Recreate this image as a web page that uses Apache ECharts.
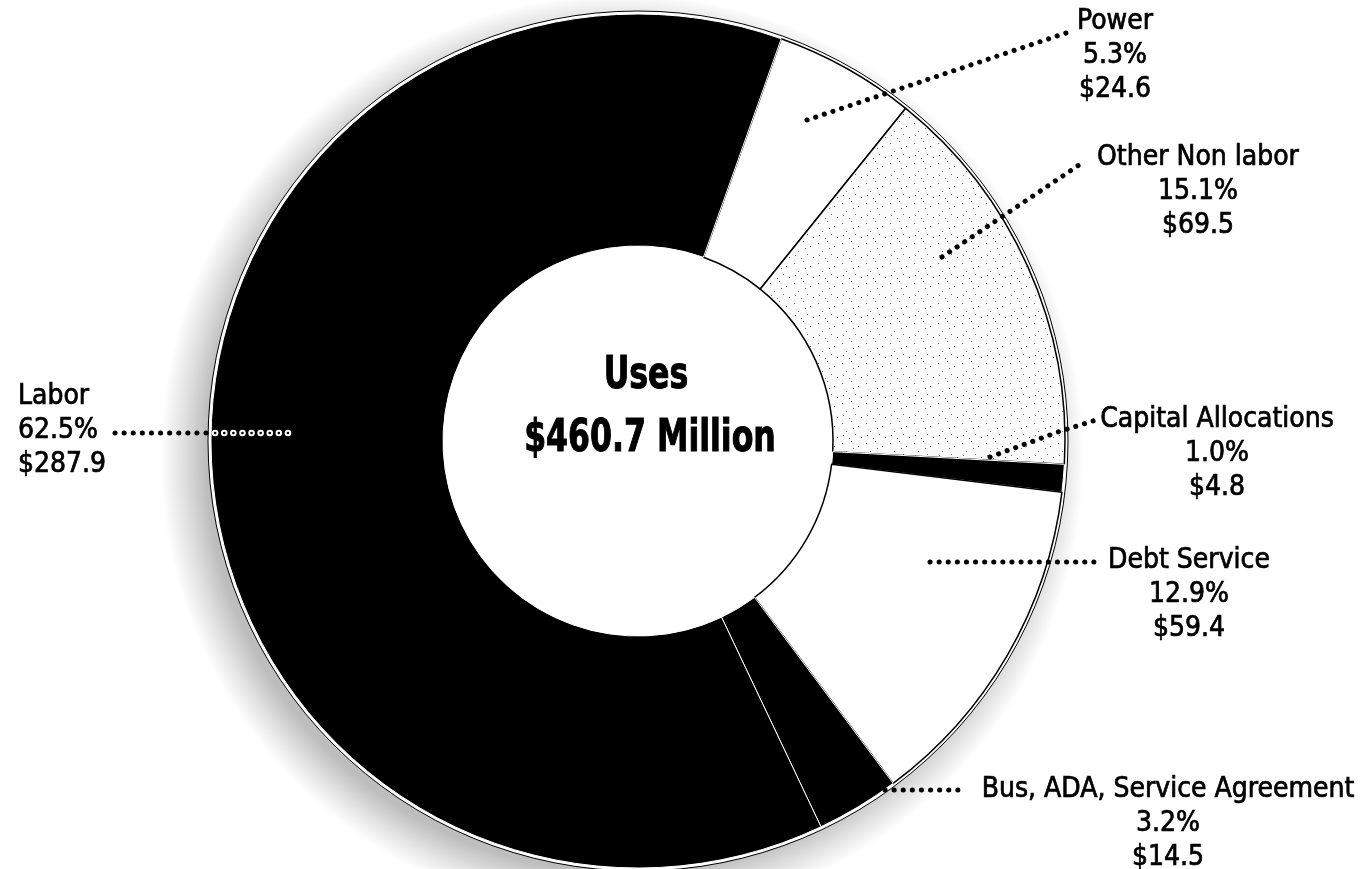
<!DOCTYPE html>
<html>
<head>
<meta charset="utf-8">
<style>
  html, body { margin: 0; padding: 0; background: #fff; }
  #chart { width: 1370px; height: 869px; }
</style>
<script src="https://cdn.jsdelivr.net/npm/echarts@6/dist/echarts.min.js"></script>
</head>
<body>
<div id="chart"></div>
<script>
// ---- data ----
const categories = ['Power', 'Other Non labor', 'Capital Allocations', 'Debt Service', 'Bus, ADA, Service Agreement', 'Labor'];
const amounts = [24.6, 69.5, 4.8, 59.4, 14.5, 287.9];          // $ millions
const percents = [5.3, 15.1, 1.0, 12.9, 3.2, 62.5];            // as printed
const centerTitle = ['Uses', '$460.7 Million'];

// ---- styling / layout (annotation positions, not data) ----
const FONT = '"Liberation Sans Narrow", "Arial Narrow", "DejaVu Sans Condensed", sans-serif';
const sliceFill = ['#ffffff', 'stipple', '#000000', '#ffffff', '#000000', '#000000'];
const labelPos = [
  { x: 1115, y: 5,   align: 'center' },
  { x: 1198, y: 141, align: 'center' },
  { x: 1217, y: 403, align: 'center' },
  { x: 1189, y: 544, align: 'center' },
  { x: 1168, y: 773, align: 'center' },
  { x: 18,   y: 380, align: 'left' }
];
const leaderPts = [
  [[807, 120], [1066, 33]],
  [[942, 257], [1082, 163]],
  [[990, 457], [1058, 432], [1096, 420]],
  [[930, 562], [1098, 562]],
  [[885, 790], [960, 790]],
  [[288, 433], [113, 433]]
];
const laborOnBlack = [[288, 433], [212, 433]];

// light stipple texture for "Other Non labor"
function stipple() {
  const c = document.createElement('canvas');
  c.width = 24; c.height = 20;
  const g = c.getContext('2d');
  g.fillStyle = '#fbfbfb'; g.fillRect(0, 0, 24, 20);
  g.fillStyle = 'rgba(0,0,0,0.55)';
  const specks = [[2,3],[11,1],[18,6],[6,11],[15,14],[21,17],[9,18],[3,15],[13,8]];
  specks.forEach(p => g.fillRect(p[0], p[1], 1, 1));
  return { image: c, repeat: 'repeat' };
}

const pieData = categories.map((name, i) => {
  const black = sliceFill[i] === '#000000';
  return {
    name: name,
    value: amounts[i],
    itemStyle: {
      color: sliceFill[i] === 'stipple' ? stipple() : sliceFill[i],
      borderColor: black ? '#ffffff' : '#000000',
      borderWidth: black ? 1 : 1.5
    }
  };
});

const dotStyle = { stroke: '#000', lineWidth: 5, lineDash: [0.1, 9], lineCap: 'round', fill: null };
const leaderGraphics = leaderPts.map(pts => ({
  type: 'polyline', z: 100, silent: true, shape: { points: pts }, style: dotStyle
}));

const chart = echarts.init(document.getElementById('chart'), null, { renderer: 'canvas' });
chart.setOption({
  backgroundColor: '#ffffff',
  animation: false,
  series: [
    {
      // backing disc with thin outer rim
      type: 'pie',
      silent: true,
      z: 3,
      center: [638, 441],
      radius: [0, 430],
      label: { show: false },
      labelLine: { show: false },
      data: [{ value: 1, itemStyle: { color: '#ffffff', borderColor: '#000', borderWidth: 1 } }]
    },
    {
      type: 'pie',
      z: 4,
      center: [638, 441],
      radius: [195, 427],
      startAngle: 70.4,
      clockwise: true,
      avoidLabelOverlap: false,
      data: pieData,
      label: {
        show: true,
        position: 'outside',
        fontFamily: FONT,
        fontSize: 28,
        lineHeight: 34,
        color: '#000',
        textBorderColor: '#000',
        textBorderWidth: 0.7,
        formatter: function (p) {
          return p.name + '\n' + percents[p.dataIndex].toFixed(1) + '%\n$' + amounts[p.dataIndex].toFixed(1);
        }
      },
      labelLine: { show: false },
      labelLayout: function (params) {
        const i = params.dataIndex;
        return {
          x: labelPos[i].x,
          y: labelPos[i].y,
          align: labelPos[i].align,
          verticalAlign: 'top'
        };
      }
    }
  ],
  graphic: [
    // soft grey drop shadow, offset left and down (drawn beneath the series)
    {
      type: 'circle', z: 0, silent: true,
      shape: { cx: 622, cy: 456, r: 462 },
      style: {
        fill: {
          type: 'radial', x: 0.5, y: 0.5, r: 0.5,
          colorStops: [
            { offset: 0, color: 'rgba(0,0,0,0.26)' },
            { offset: 0.9, color: 'rgba(0,0,0,0.26)' },
            { offset: 0.95, color: 'rgba(0,0,0,0.12)' },
            { offset: 1, color: 'rgba(0,0,0,0)' }
          ]
        }
      }
    }
  ].concat(leaderGraphics).concat([
    {
      type: 'text', z: 100, x: 646, y: 376, scaleX: 0.78,
      style: { text: centerTitle[0], fontFamily: FONT, fontWeight: 'bold', fontSize: 45, fill: '#000',
        stroke: '#000', lineWidth: 1, textAlign: 'center', textVerticalAlign: 'middle' }
    },
    {
      type: 'text', z: 100, x: 650, y: 439, scaleX: 0.78,
      style: { text: centerTitle[1], fontFamily: FONT, fontWeight: 'bold', fontSize: 45, fill: '#000',
        stroke: '#000', lineWidth: 1, textAlign: 'center', textVerticalAlign: 'middle' }
    },
    // Labor leader where it crosses the black slice: hollow white dots
    {
      type: 'polyline', z: 101, silent: true,
      shape: { points: laborOnBlack },
      style: { stroke: '#fff', lineWidth: 6.5, lineDash: [0.1, 9], lineCap: 'round', fill: null }
    },
    {
      type: 'polyline', z: 102, silent: true,
      shape: { points: laborOnBlack },
      style: { stroke: '#000', lineWidth: 2.5, lineDash: [0.1, 9], lineCap: 'round', fill: null }
    }
  ])
});
</script>
</body>
</html>
